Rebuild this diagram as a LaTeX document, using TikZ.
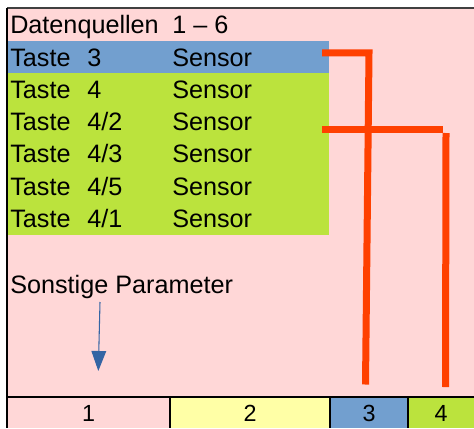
\documentclass[tikz,border=0pt]{standalone}
\usepackage{fontspec}
\setmainfont{Liberation Sans}
\usetikzlibrary{arrows.meta}
\definecolor{bgpink}{HTML}{FFD7D7}
\definecolor{rowblue}{HTML}{729FCF}
\definecolor{rowgreen}{HTML}{BBE33D}
\definecolor{cellyellow}{HTML}{FFFFA6}
\definecolor{linered}{HTML}{FF4000}
\definecolor{arrowblue}{HTML}{3465A4}
\tikzset{
  txt/.style={anchor=base west, inner sep=0pt, font=\fontsize{18.9}{22}\selectfont},
  celltxt/.style={anchor=base, inner sep=0pt, font=\fontsize{17.5}{20}\selectfont},
  redline/.style={draw=linered, line width=5.25pt},
  frame/.style={draw=black, line width=1.6pt},
}
\begin{document}
\begin{tikzpicture}[x=0.75pt,y=-0.75pt]
\useasboundingbox (0,0) rectangle (474,428);
% background
\fill[bgpink] (7,8) rectangle (474,428);
% rows
\fill[rowblue] (8,41) rectangle (329,73);
\fill[rowgreen] (8,73) rectangle (329,235);
% bottom strip cells
\fill[bgpink] (7,397) rectangle (170,428);
\fill[cellyellow] (170,397) rectangle (330,428);
\fill[rowblue] (330,397) rectangle (408,428);
\fill[rowgreen] (408,397) rectangle (474,428);
% frame lines
\draw[draw=black!75, line width=1.8pt] (7,8) -- (474,8);
\draw[frame] (7,8) -- (7,428);
\draw[frame] (7,397) -- (474,397);
\draw[frame] (170,397) -- (170,428);
\draw[frame] (330,397) -- (330,428);
\draw[frame] (408,397) -- (408,428);
% texts
\node[txt] (hd) at (10,34) {Datenquellen};
\node[txt] (hdn) at (172,34) {1 – 6};
\foreach \i/\n in {0/3,1/4,2/4\slash 2,3/4\slash 3,4/4\slash 5,5/4\slash 1}{
  \node[txt] (ta\i) at (10,{66+32.3*\i}) {Taste};
  \node[txt] (nu\i) at (87,{66+32.3*\i}) {\n};
  \node[txt] (se\i) at (172,{66+32.3*\i}) {Sensor};
}
\node[txt] (sp) at (10,293) {Sonstige Parameter};
\node[celltxt] (c1) at (88.5,421.5) {1};
\node[celltxt] (c2) at (250,421.5) {2};
\node[celltxt] (c3) at (369,421.5) {3};
\node[celltxt] (c4) at (441,421.5) {4};
% red connectors
\coordinate (r1a) at (322,53);
\coordinate (r1b) at (369,53);
\coordinate (r1c) at (365.5,384.5);
\coordinate (r2a) at (322,129.3);
\coordinate (r2b) at (443.3,129.3);
\coordinate (r2c) at (446,133);
\coordinate (r2d) at (445.5,387);
\draw[redline, line join=miter] (r1a) -- (r1b) -- (r1c);
\draw[redline] (r2a) -- (r2b);
\draw[redline] (r2c) -- (r2d);
% blue arrow
\coordinate (aa) at (100,302);
\coordinate (ab) at (98.3,371);
\draw[arrowblue, line width=0.8pt, -{Triangle[width=11pt,length=15pt]}] (aa) -- (ab);
\end{tikzpicture}
\end{document}
